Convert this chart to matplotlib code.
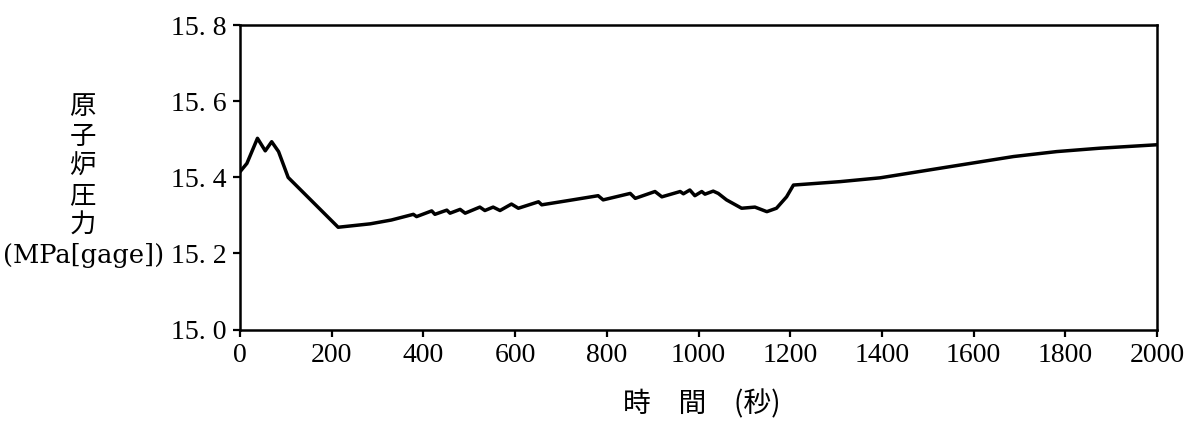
import matplotlib
matplotlib.use("Agg")
import matplotlib.pyplot as plt

# Data
time_s = [0, 2, 15, 38, 55, 69, 84, 105, 214, 284, 330, 378, 385, 418, 425, 451, 458,
          480, 491, 523, 534, 552, 567, 592, 607, 651, 658, 720, 781, 792, 851, 862,
          905, 920, 960, 967, 981, 992, 1007, 1014, 1032, 1043, 1061, 1094, 1123,
          1149, 1170, 1192, 1207, 1309, 1396, 1541, 1687, 1781, 1876, 2000]
pressure = [15.415, 15.418, 15.437, 15.503, 15.470, 15.494, 15.468, 15.400, 15.269,
            15.278, 15.288, 15.303, 15.297, 15.312, 15.303, 15.314, 15.306, 15.316,
            15.306, 15.322, 15.313, 15.322, 15.313, 15.330, 15.319, 15.336, 15.328,
            15.340, 15.352, 15.341, 15.358, 15.345, 15.363, 15.349, 15.363, 15.357,
            15.367, 15.352, 15.363, 15.356, 15.364, 15.358, 15.341, 15.319, 15.322,
            15.310, 15.319, 15.349, 15.380, 15.389, 15.399, 15.427, 15.455, 15.468,
            15.477, 15.486]

x_ticks = [0, 200, 400, 600, 800, 1000, 1200, 1400, 1600, 1800, 2000]
y_ticks = [15.0, 15.2, 15.4, 15.6, 15.8]
y_tick_labels = ["15. 0", "15. 2", "15. 4", "15. 6", "15. 8"]
x_label = "時　間　(秒)"
y_label = "原\n子\n炉\n圧\n力"
y_unit = "(MPa[gage])"

fig = plt.figure(figsize=(11.99, 4.23), dpi=100)
ax = fig.add_axes([0.2002, 0.221, 0.7648, 0.719])

ax.plot(time_s, pressure, color="black", linewidth=2.5, solid_joinstyle="round")

ax.set_xlim(0, 2000)
ax.set_ylim(15.0, 15.8)
ax.set_xticks(x_ticks)
ax.set_xticklabels([str(t) for t in x_ticks], family="Liberation Serif", fontsize=20)
ax.set_yticks(y_ticks)
ax.set_yticklabels(y_tick_labels, family="Liberation Serif", fontsize=20)
ax.tick_params(axis="both", direction="out", length=5, width=1.6, pad=5, colors="black")

for s in ax.spines.values():
    s.set_linewidth(1.8)
    s.set_color("black")

fig.text(0.5855, 0.043, x_label, ha="center", va="center", fontsize=20,
         family=["Noto Sans CJK JP", "DejaVu Sans"])
fig.text(0.069, 0.608, y_label, ha="center", va="center", fontsize=19,
         family=["Noto Sans CJK JP", "DejaVu Sans"], linespacing=1.12)
fig.text(0.070, 0.395, y_unit, ha="center", va="center", fontsize=18.5,
         family="DejaVu Serif")

fig.savefig("out.png", dpi=100)
